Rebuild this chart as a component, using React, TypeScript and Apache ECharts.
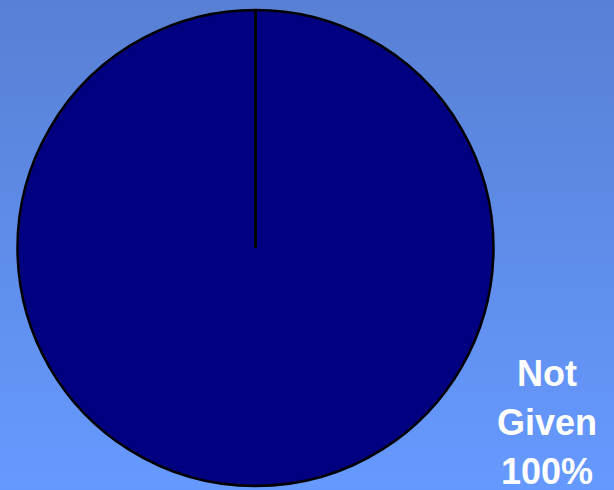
import React, { useEffect, useRef } from "react";
import * as echarts from "echarts";

const categories = ["Not Given"];
const values = [100];

export default function App() {
  const ref = useRef<HTMLDivElement>(null);
  useEffect(() => {
    document.body.style.margin = "0";
    const chart = echarts.init(ref.current!, null, { renderer: "svg" });
    const cx = 255.5;
    const cy = 248;
    const r = 238;
    chart.setOption({
      animation: false,
      backgroundColor: {
        type: "linear",
        x: 0, y: 0, x2: 0, y2: 1,
        colorStops: [
          { offset: 0, color: "#5880d4" },
          { offset: 1, color: "#6699ff" },
        ],
      },
      series: [
        {
          type: "pie",
          center: [cx, cy],
          radius: [0, r],
          startAngle: 90,
          clockwise: true,
          data: categories.map((c, i) => ({ name: c, value: values[i] })),
          itemStyle: { color: "#000080", borderColor: "#000000", borderWidth: 2.5 },
          label: {
            show: true,
            position: "outside",
            formatter: (p: any) => p.name.replace(" ", "\n") + "\n" + Math.round(p.percent) + "%",
            color: "#ffffff",
            fontFamily: "Liberation Sans, Arial, sans-serif",
            fontWeight: "bold",
            fontSize: 36,
            lineHeight: 49,
            align: "center",
          },
          labelLine: { show: false },
          labelLayout: { x: 547, y: 422, align: "center", verticalAlign: "middle" },
          emphasis: { disabled: true },
        },
      ],
      graphic: [
        {
          type: "line",
          shape: { x1: cx, y1: cy, x2: cx, y2: cy - r },
          style: { stroke: "#000000", lineWidth: 3 },
          z: 10,
        },
      ],
    });
    return () => chart.dispose();
  }, []);
  return <div ref={ref} style={{ width: 614, height: 490 }} />;
}
